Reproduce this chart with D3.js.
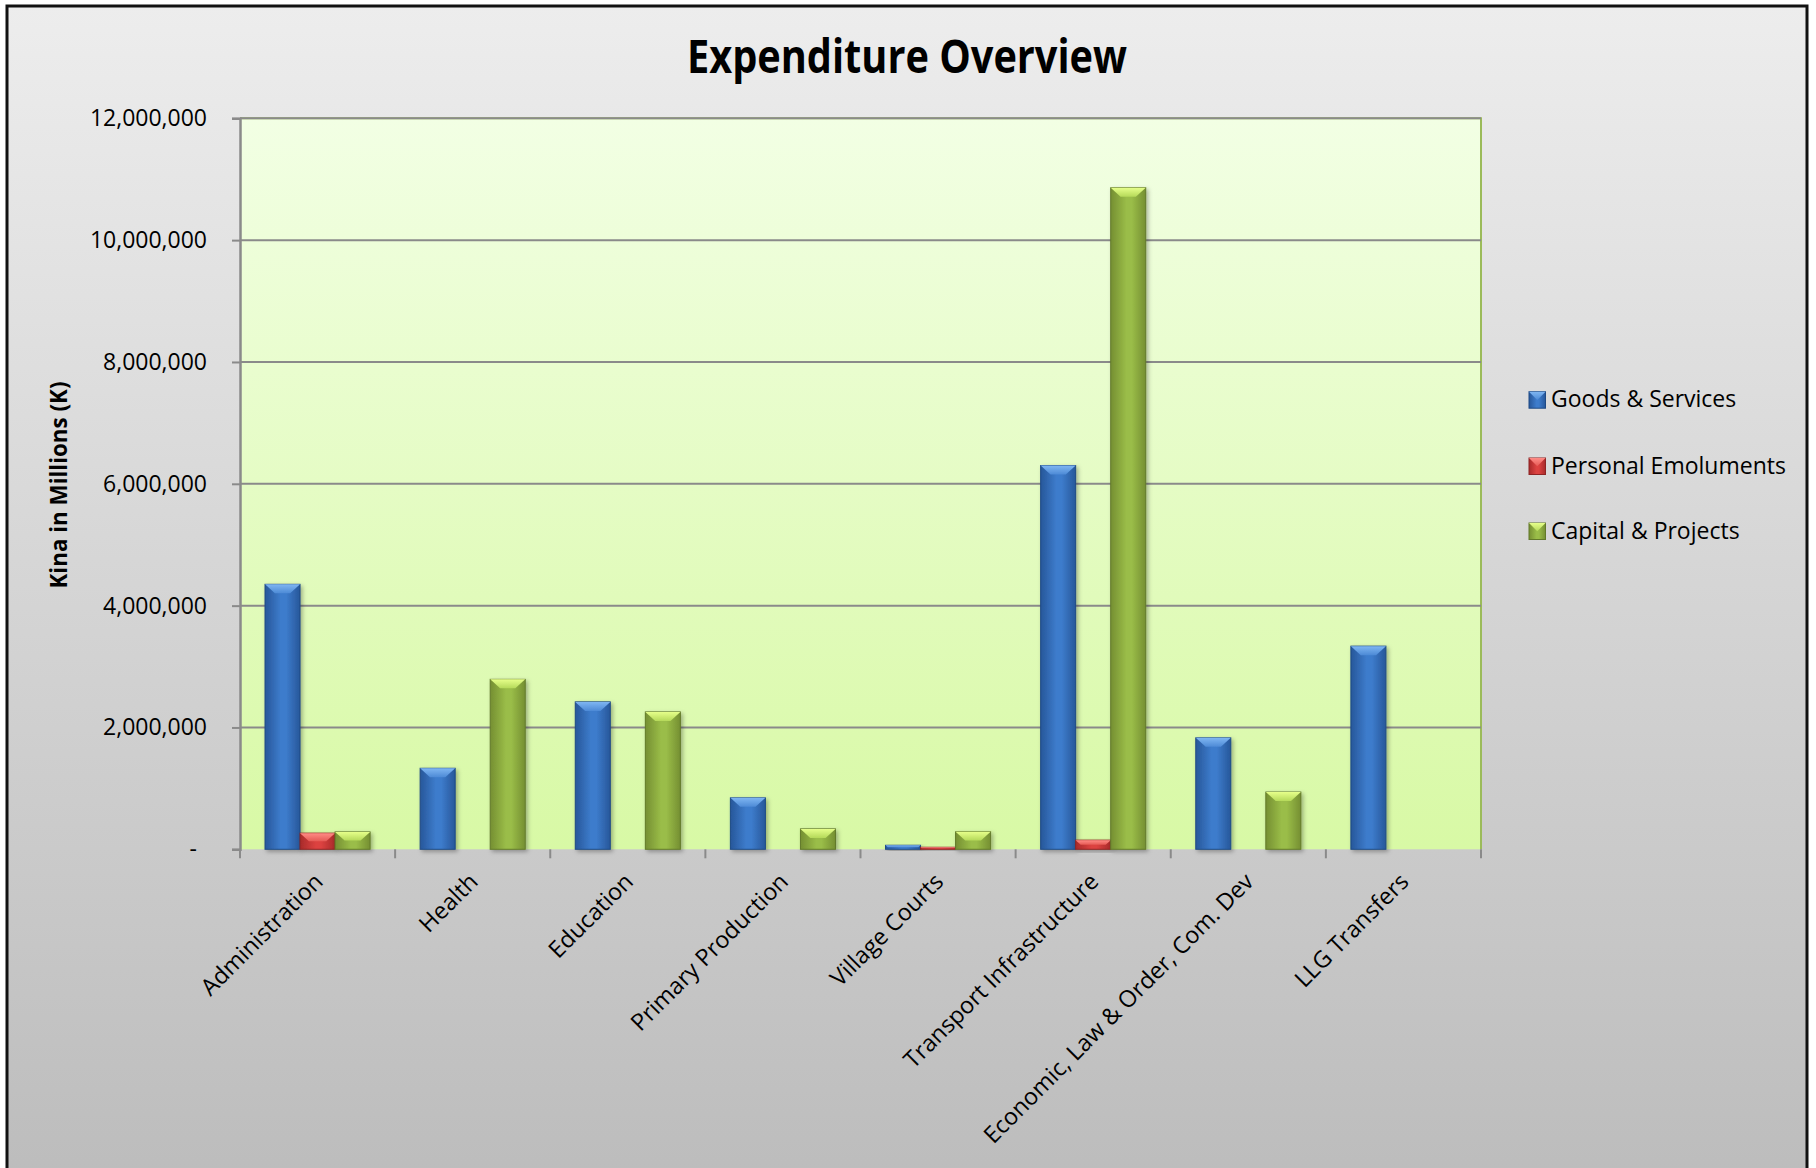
<!DOCTYPE html>
<html>
<head>
<meta charset="utf-8">
<script src="https://cdn.jsdelivr.net/npm/d3@7"></script>
<style>
  html, body { margin: 0; padding: 0; background: #fff; }
  svg { display: block; }
</style>
</head>
<body>
<svg id="chart" width="1816" height="1168"></svg>
<script>
// ---- data ----
const categories = ["Administration", "Health", "Education", "Primary Production", "Village Courts", "Transport Infrastructure", "Economic, Law & Order, Com. Dev", "LLG Transfers"];
const seriesNames = ["Goods & Services", "Personal Emoluments", "Capital & Projects"];
const goodsServices = [4350000, 1330000, 2420000, 845000, 66000, 6300000, 1830000, 3335000];
const personalEmoluments = [265000, 0, 0, 0, 33000, 150000, 0, 0];
const capitalProjects = [285000, 2790000, 2255000, 335000, 288000, 10860000, 940000, 0];
const yTicks = [0, 2000000, 4000000, 6000000, 8000000, 10000000, 12000000];
const titleText = "Expenditure Overview";
const yAxisTitle = "Kina in Millions (K)";

const seriesValues = [goodsServices, personalEmoluments, capitalProjects];
const palettes = [
  { edge: "#27579a", mid: "#3d7ccc", top1: "#7fb6f2", top2: "#4d8ad6", stroke: "#1f4a85" },
  { edge: "#a82a2a", mid: "#dc4240", top1: "#ff8c86", top2: "#e55a55", stroke: "#8e2424" },
  { edge: "#758f32", mid: "#9abd48", top1: "#e6ff8a", top2: "#b5d95a", stroke: "#62792a" }
];

const svg = d3.select("#chart");
const W = 1816, H = 1168;
const defs = svg.append("defs");

// background gradient
const bg = defs.append("linearGradient").attr("id", "bgGrad").attr("x1", 0).attr("y1", 0).attr("x2", 0).attr("y2", 1);
bg.append("stop").attr("offset", "0%").attr("stop-color", "#ededed");
bg.append("stop").attr("offset", "100%").attr("stop-color", "#bcbcbc");

const pg = defs.append("linearGradient").attr("id", "plotGrad").attr("x1", 0).attr("y1", 0).attr("x2", 0).attr("y2", 1);
pg.append("stop").attr("offset", "0%").attr("stop-color", "#f2ffe4");
pg.append("stop").attr("offset", "100%").attr("stop-color", "#d8f9a5");

palettes.forEach((p, i) => {
  const g = defs.append("linearGradient").attr("id", "barGrad" + i).attr("x1", 0).attr("y1", 0).attr("x2", 1).attr("y2", 0);
  g.append("stop").attr("offset", "0%").attr("stop-color", p.edge);
  g.append("stop").attr("offset", "45%").attr("stop-color", p.mid);
  g.append("stop").attr("offset", "60%").attr("stop-color", p.mid);
  g.append("stop").attr("offset", "100%").attr("stop-color", p.edge);
  const t = defs.append("linearGradient").attr("id", "topGrad" + i).attr("x1", 0).attr("y1", 0).attr("x2", 0).attr("y2", 1);
  t.append("stop").attr("offset", "0%").attr("stop-color", p.top1);
  t.append("stop").attr("offset", "100%").attr("stop-color", p.top2);
});

const shadow = defs.append("filter").attr("id", "shadow").attr("x", "-20%").attr("y", "-20%").attr("width", "160%").attr("height", "160%");
shadow.append("feDropShadow").attr("dx", 2).attr("dy", 2).attr("stdDeviation", 2).attr("flood-color", "#000").attr("flood-opacity", 0.3);

// outer background + border
svg.append("rect").attr("x", 0).attr("y", 0).attr("width", W).attr("height", H).attr("fill", "#fff");
svg.append("rect").attr("x", 7).attr("y", 6).attr("width", 1800).attr("height", 1180)
  .attr("fill", "url(#bgGrad)").attr("stroke", "#111").attr("stroke-width", 3);

// scales
const plot = { left: 240, right: 1481, top: 118.3, bottom: 849.3 };
const x = d3.scaleBand().domain(categories).range([plot.left, plot.right]).paddingInner(0).paddingOuter(0);
const x1 = d3.scaleBand().domain(seriesNames).range([0, x.bandwidth()]).paddingInner(0).paddingOuter(0.714);
const y = d3.scaleLinear().domain([0, 12000000]).range([plot.bottom, plot.top]);

// plot area
svg.append("rect").attr("x", plot.left).attr("y", plot.top)
  .attr("width", plot.right - plot.left).attr("height", plot.bottom - plot.top)
  .attr("fill", "url(#plotGrad)");
// green border top & right
svg.append("path")
  .attr("d", `M${plot.left},${plot.top}H${plot.right}V${plot.bottom}`)
  .attr("fill", "none").attr("stroke", "#9bbb59").attr("stroke-width", 2);

// gridlines
svg.append("g").selectAll("line").data(yTicks.filter(d => d > 0)).join("line")
  .attr("x1", plot.left).attr("x2", plot.right)
  .attr("y1", d => y(d)).attr("y2", d => y(d))
  .attr("stroke", "#8a8a8a").attr("stroke-width", 2);

// y axis
const yAxis = d3.axisLeft(y).tickValues(yTicks).tickSize(8).tickPadding(25)
  .tickFormat(d => d === 0 ? "-" : d3.format(",")(d));
const yg = svg.append("g").attr("transform", `translate(${plot.left},0)`).call(yAxis);
yg.select(".domain").attr("stroke", "#8a8a8a").attr("stroke-width", 2.5);
yg.selectAll(".tick line").attr("stroke", "#8a8a8a").attr("stroke-width", 2);
yg.selectAll(".tick text").attr("font-family", "'Open Sans', sans-serif").attr("font-size", 23).attr("fill", "#000")
  .attr("dx", d => d === 0 ? -10 : 0);

// bars
const groups = svg.append("g").selectAll("g").data(categories).join("g")
  .attr("transform", d => `translate(${x(d)},0)`);

seriesNames.forEach((s, si) => {
  const vals = seriesValues[si];
  const bw = x1.bandwidth();
  const bars = groups.filter((d, i) => vals[i] > 0).append("g").attr("filter", "url(#shadow)");
  bars.each(function(d) {
    const i = categories.indexOf(d);
    const v = vals[i];
    const bx = x1(s), by = y(v), bh = y(0) - y(v);
    const g = d3.select(this);
    g.append("rect").attr("x", bx).attr("y", by).attr("width", bw).attr("height", bh)
      .attr("fill", `url(#barGrad${si})`).attr("stroke", palettes[si].stroke).attr("stroke-width", 1);
    const b = Math.min(9, bh / 2);
    const ins = Math.min(10, b * 1.1);
    g.append("path")
      .attr("d", `M${bx},${by}H${bx + bw}L${bx + bw - ins},${by + b}H${bx + ins}Z`)
      .attr("fill", `url(#topGrad${si})`);
  });
});

// x axis
const xAxisG = svg.append("g");
xAxisG.append("line").attr("x1", plot.left).attr("x2", plot.right).attr("y1", plot.bottom).attr("y2", plot.bottom)
  .attr("stroke", "#8a8a8a").attr("stroke-width", 3).attr("filter", "url(#shadow)");
const boundaries = categories.map(c => x(c)).concat([plot.right]);
xAxisG.selectAll("line.tk").data(boundaries).join("line").attr("class", "tk")
  .attr("x1", d => d).attr("x2", d => d).attr("y1", plot.bottom).attr("y2", plot.bottom + 9)
  .attr("stroke", "#8a8a8a").attr("stroke-width", 2);
xAxisG.selectAll("text").data(categories).join("text")
  .attr("transform", d => `translate(${x(d) + x.bandwidth() / 2 + 1},${plot.bottom + 28}) rotate(-45)`)
  .attr("text-anchor", "end").attr("dy", "0.35em")
  .attr("font-family", "'Open Sans', sans-serif").attr("font-size", 23.3).attr("fill", "#000")
  .text(d => d);

// title
svg.append("text").attr("x", 907).attr("y", 73).attr("text-anchor", "middle")
  .attr("font-family", "'Open Sans', sans-serif").attr("font-weight", "bold").attr("font-size", 46)
  .attr("textLength", 440).attr("lengthAdjust", "spacingAndGlyphs")
  .text(titleText);

// y axis title
svg.append("text").attr("transform", "translate(67,485) rotate(-90)").attr("text-anchor", "middle")
  .attr("font-family", "'Open Sans', sans-serif").attr("font-weight", "bold").attr("font-size", 23)
  .attr("textLength", 207).attr("lengthAdjust", "spacingAndGlyphs")
  .text(yAxisTitle);

// legend
const legend = svg.append("g");
const legY = [391.7, 458, 523];
seriesNames.forEach((s, i) => {
  const g = legend.append("g");
  const lx = 1529, ly = legY[i], sz = 16.5;
  g.append("rect").attr("x", lx).attr("y", ly).attr("width", sz).attr("height", sz)
    .attr("fill", `url(#barGrad${i})`).attr("stroke", palettes[i].stroke).attr("stroke-width", 1);
  g.append("path").attr("d", `M${lx},${ly}H${lx + sz}L${lx + sz / 2},${ly + sz / 2}Z`).attr("fill", `url(#topGrad${i})`);
  g.append("text").attr("x", 1551).attr("y", ly + 15.5)
    .attr("font-family", "'Open Sans', sans-serif").attr("font-size", 23).attr("fill", "#000")
    .text(s);
});
</script>
</body>
</html>
